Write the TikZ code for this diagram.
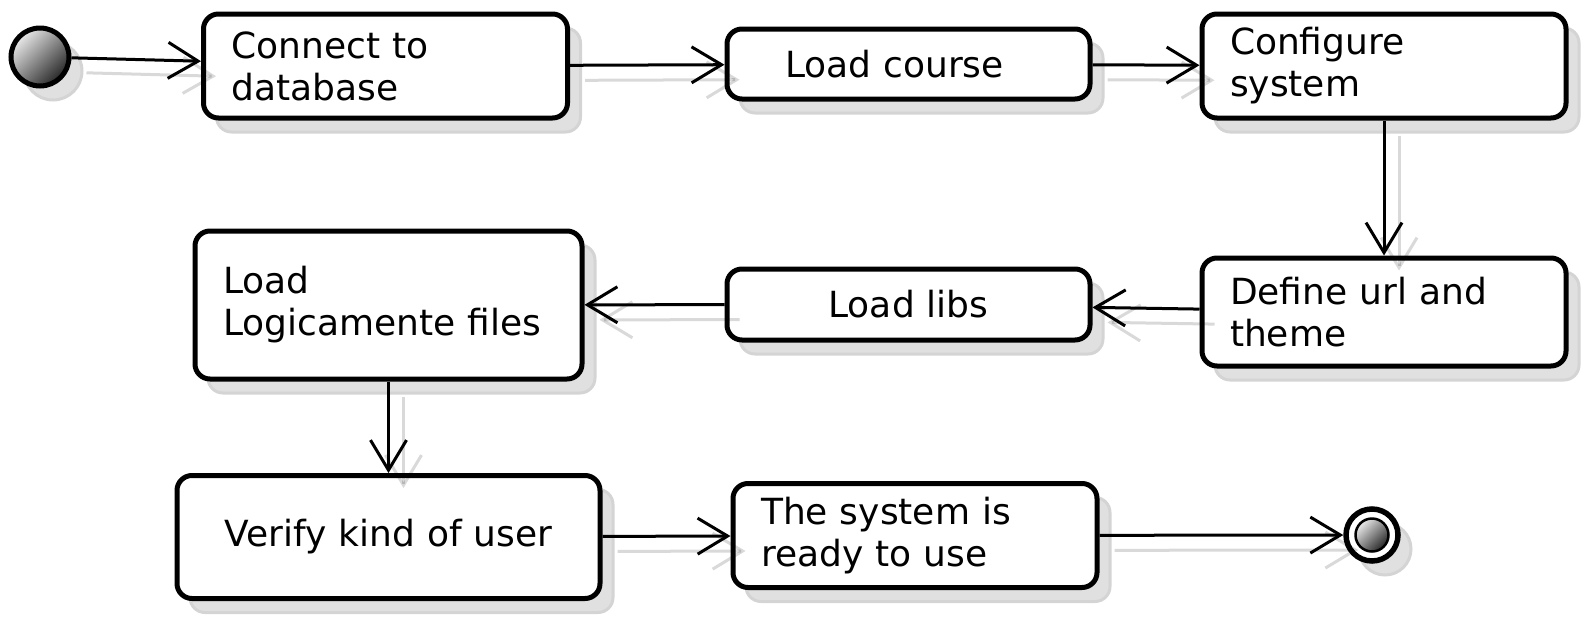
\documentclass[tikz,border=0pt]{standalone}
\usepackage{amsmath}
\usepackage{fontspec}
\setmainfont{DejaVu Sans}
\usetikzlibrary{arrows.meta,shadows}

\begin{document}
\begin{tikzpicture}[x=1pt, y=-1pt,
  lightshadow/.style={drop shadow={shadow xshift=13pt, shadow yshift=-14pt,
    draw=black!17, line width=3pt, fill=black!12, opacity=1}},
  act/.style={draw, fill=white, line width=5pt, rounded corners=15pt,
    inner xsep=28pt, inner ysep=0pt, align=left,
    font=\fontsize{36}{42}\selectfont, lightshadow},
  ball/.style={circle, draw, inner sep=0pt, top color=black!8,
    bottom color=black!85, shading angle=45},
  flow/.style={line width=3pt, -{Straight Barb[length=30pt, width=36pt]}},
  flowshadow/.style={flow, draw opacity=0.15,
    transform canvas={xshift=15pt, yshift=-15pt}}]
  \useasboundingbox (0,0) rectangle (1585,622);

  % start and end
  \node[ball, line width=5pt, minimum size=58pt, lightshadow] (start) at (40,57) {};
  \node[circle, draw, fill=white, line width=5.5pt, minimum size=52pt, lightshadow]
    (endring) at (1372,535) {};
  \node[ball, line width=2.5pt, minimum size=33pt] (endcore) at (endring) {};

  % activities
  \node[act, minimum width=364pt, minimum height=104pt, text width=308pt]
    (b1) at (385.5,66) {Connect to\\database};
  \node[act, minimum width=363pt, minimum height=70pt, inner xsep=58pt, text width=247pt]
    (b2) at (908.5,64) {Load course};
  \node[act, minimum width=364pt, minimum height=104pt, text width=308pt]
    (b3) at (1384,66) {Configure\\system};
  \node[act, minimum width=364pt, minimum height=108pt, text width=308pt]
    (b4) at (1384,312) {Define url and\\theme};
  \node[act, minimum width=363pt, minimum height=71pt, text width=307pt, align=center]
    (b5) at (908.5,304.5) {Load libs};
  \node[act, minimum width=387pt, minimum height=148pt, text width=331pt]
    (b6) at (388.5,305) {Load\\Logicamente files};
  \node[act, minimum width=423pt, minimum height=123pt, text width=367pt, align=center]
    (b7) at (388.5,537) {Verify kind of user};
  \node[act, minimum width=364pt, minimum height=104pt, text width=308pt]
    (b8) at (915,535.5) {The system is\\ready to use};

  \foreach \a/\b in {start/b1, b1/b2, b2/b3, b3/b4, b4/b5, b5/b6, b6/b7, b7/b8, b8/endring}
    \draw[flowshadow] (\a) -- (\b);

  % draw after shadows
  \foreach \a/\b in {start/b1, b1/b2, b2/b3, b3/b4, b4/b5, b5/b6, b6/b7, b7/b8, b8/endring}
    \draw[flow] (\a) -- (\b);

\end{tikzpicture}
\end{document}
